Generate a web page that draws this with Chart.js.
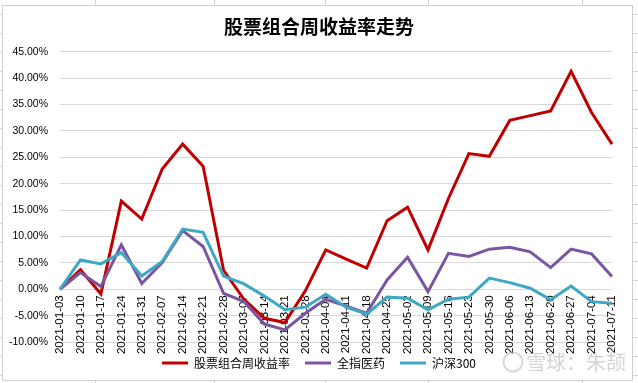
<!DOCTYPE html>
<html>
<head>
<meta charset="utf-8">
<script src="https://cdn.jsdelivr.net/npm/chart.js@4.4.1/dist/chart.umd.min.js"></script>
<style>
html,body{margin:0;padding:0;background:#fff;}
#wrap{position:relative;width:638px;height:383px;}
</style>
</head>
<body>
<div id="wrap"><canvas id="c" width="638" height="383"></canvas></div>
<script>
const categories = ["2021-01-03","2021-01-10","2021-01-17","2021-01-24","2021-01-31","2021-02-07","2021-02-14","2021-02-21","2021-02-28","2021-03-07","2021-03-14","2021-03-21","2021-03-28","2021-04-04","2021-04-11","2021-04-18","2021-04-25","2021-05-02","2021-05-09","2021-05-16","2021-05-23","2021-05-30","2021-06-06","2021-06-13","2021-06-20","2021-06-27","2021-07-04","2021-07-11"];
const portfolio = [0, 3.7, -0.9, 16.7, 13.3, 22.8, 27.5, 23.3, 3.6, -1.9, -5.5, -6.3, -0.3, 7.45, 5.7, 4.0, 13.0, 15.55, 7.45, 17.2, 25.7, 25.2, 32.0, 32.9, 33.8, 41.3, 33.5, 27.5];
const pharma = [0, 3.15, 0.5, 8.4, 1.1, 5.05, 11.1, 8.1, -0.8, -2.35, -6.6, -7.7, -4.55, -1.9, -3.2, -4.55, 1.75, 6.05, -0.45, 6.8, 6.2, 7.6, 7.95, 7.1, 4.1, 7.6, 6.7, 2.4];
const hs300 = [0, 5.55, 4.8, 6.95, 2.5, 5.25, 11.4, 10.8, 2.5, 1.0, -1.3, -3.9, -3.4, -0.95, -3.4, -4.7, -1.5, -1.7, -3.9, -1.9, -1.5, 2.1, 1.25, 0.2, -2.0, 0.6, -2.35, -2.65];
const seriesNames = ["股票组合周收益率", "全指医药", "沪深300"];
const titleText = "股票组合周收益率走势";
const yMin = -10, yMax = 45, yStep = 5;
const watermark = "雪球：朱颉";

const frame = {
  id: 'frame',
  beforeDraw(chart) {
    const ctx = chart.ctx;
    ctx.save();
    ctx.fillStyle = '#fff';
    ctx.fillRect(0, 0, chart.width, chart.height);
    ctx.strokeStyle = '#d4d4d4';
    ctx.lineWidth = 1;
    const cols = [95, 214, 325, 428, 582];
    ctx.beginPath();
    cols.forEach(x => { ctx.moveTo(x + 0.5, 0); ctx.lineTo(x + 0.5, 5); ctx.moveTo(x + 0.5, 381); ctx.lineTo(x + 0.5, 383); });
    for (let y = 14.5; y < 383; y += 19) {
      ctx.moveTo(0, y); ctx.lineTo(3, y);
      ctx.moveTo(632, y); ctx.lineTo(638, y);
    }
    ctx.stroke();
    ctx.strokeStyle = '#cfcfcf';
    ctx.strokeRect(2.5, 5.5, 630, 375);
    ctx.restore();
  },
  afterDraw(chart) {
    const ctx = chart.ctx;
    ctx.save();
    ctx.globalAlpha = 0.55;
    ctx.strokeStyle = '#b8b8b8';
    ctx.lineWidth = 2;
    ctx.beginPath();
    ctx.arc(513, 362, 9.5, 0, Math.PI * 2);
    ctx.stroke();
    ctx.fillStyle = '#b0b0b0';
    ctx.font = '20px "Noto Sans CJK SC"';
    ctx.textBaseline = 'middle';
    ctx.fillText(watermark, 526, 362);
    ctx.restore();
  }
};

new Chart(document.getElementById('c'), {
  type: 'line',
  data: {
    labels: categories,
    datasets: [
      { label: seriesNames[0], data: portfolio, borderColor: '#C00000', backgroundColor: '#C00000', borderWidth: 3, pointRadius: 0, tension: 0, order: 2 },
      { label: seriesNames[1], data: pharma, borderColor: '#7A55A2', backgroundColor: '#7A55A2', borderWidth: 3, pointRadius: 0, tension: 0, order: 1 },
      { label: seriesNames[2], data: hs300, borderColor: '#3EA8C4', backgroundColor: '#3EA8C4', borderWidth: 3, pointRadius: 0, tension: 0, order: 0 }
    ]
  },
  options: {
    responsive: false,
    animation: false,
    devicePixelRatio: 1,
    layout: { padding: { left: 0, right: 0, top: 0, bottom: 4 } },
    plugins: {
      tooltip: { enabled: false },
      title: {
        display: true,
        text: titleText,
        color: '#000',
        font: { family: '"Noto Sans CJK SC"', size: 19, weight: 'bold' },
        padding: { top: 15, bottom: 14 }
      },
      legend: {
        position: 'bottom',
        labels: {
          usePointStyle: true,
          pointStyle: 'line',
          pointStyleWidth: 26,
          color: '#000',
          padding: 15,
          font: { family: '"Noto Sans CJK SC"', size: 12 },
          sort: (a, b) => a.datasetIndex - b.datasetIndex
        }
      }
    },
    scales: {
      x: {
        position: { y: 0 },
        grid: { display: false, drawTicks: false },
        border: { display: false },
        ticks: {
          autoSkip: false,
          minRotation: 90,
          maxRotation: 90,
          padding: 6,
          color: '#000',
          font: { family: '"Liberation Sans"', size: 11.5 }
        }
      },
      y: {
        min: yMin,
        max: yMax,
        afterFit: s => { s.width = 60; },
        grid: { color: '#d9d9d9', lineWidth: 1, drawTicks: false },
        border: { display: false },
        ticks: {
          stepSize: yStep,
          padding: 12,
          color: '#000',
          font: { family: '"Liberation Sans"', size: 10.5 },
          callback: v => v.toFixed(2) + '%'
        }
      },
      yRight: {
        position: 'right',
        display: true,
        afterFit: s => { s.width = 26; },
        grid: { display: false, drawTicks: false },
        border: { display: false },
        ticks: { display: false }
      }
    }
  },
  plugins: [frame]
});
</script>
</body>
</html>
